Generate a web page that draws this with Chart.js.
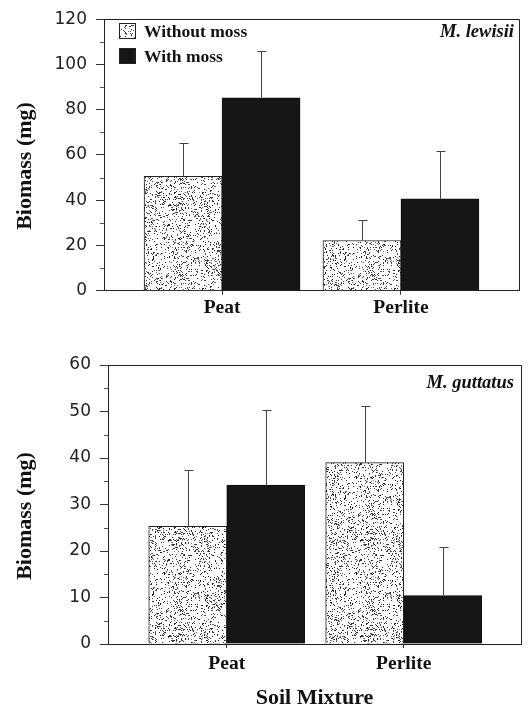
<!DOCTYPE html>
<html><head><meta charset="utf-8">
<script src="https://cdn.jsdelivr.net/npm/chart.js@4.4.1/dist/chart.umd.min.js"></script>
<style>
html,body{margin:0;padding:0;background:#fff;}
canvas{position:absolute;left:0;}
#c1{top:0;}
#c2{top:335px;}
</style></head><body>
<canvas id="c1" width="532" height="335"></canvas>
<canvas id="c2" width="532" height="372"></canvas>
<script>
// ---- data ----
const categories = ['Peat', 'Perlite'];
const seriesNames = ['Without moss', 'With moss'];
const lewisiiWithout = [50.6, 22.2];
const lewisiiWith = [85.3, 40.6];
const lewisiiWithoutErr = [14.5, 9.2];
const lewisiiWithErr = [20.7, 21.0];
const guttatusWithout = [25.3, 39.0];
const guttatusWith = [34.2, 10.4];
const guttatusWithoutErr = [12.2, 12.1];
const guttatusWithErr = [16.1, 10.4];
const lewisiiTicks = [0, 20, 40, 60, 80, 100, 120];
const guttatusTicks = [0, 10, 20, 30, 40, 50, 60];

// ---- stipple texture ----
function makeStipple() {
  const c = document.createElement('canvas');
  c.width = 96; c.height = 96;
  const g = c.getContext('2d');
  g.fillStyle = '#fff'; g.fillRect(0, 0, 96, 96);
  const img = g.getImageData(0, 0, 96, 96);
  for (let y = 0; y < 96; y++) {
    for (let x = 0; x < 96; x++) {
      const h = Math.abs(Math.sin(x * 12.9898 + y * 78.233) * 43758.5453) % 1;
      const h2 = Math.abs(Math.sin(Math.floor(x / 6) * 7.13 + Math.floor(y / 6) * 3.71) * 9631.77) % 1;
      const thr = 0.08 + 0.14 * h2;
      if (h < thr) {
        const v = 20 + Math.floor(h * 600) % 100;
        const i = (y * 96 + x) * 4;
        img.data[i] = v; img.data[i + 1] = v; img.data[i + 2] = v;
      }
    }
  }
  g.putImageData(img, 0, 0);
  return g.createPattern(c, 'repeat');
}
const stipple = makeStipple();
const blackFill = '#161616';

const serif = '"Liberation Serif", "Times New Roman", serif';
const sans = '"DejaVu Sans", Verdana, sans-serif';

const decoPlugin = {
  id: 'deco',
  afterDatasetsDraw(chart, args, o) {
    const ctx = chart.ctx;
    const ys = chart.scales.y;
    ctx.save();
    ctx.strokeStyle = '#444';
    ctx.lineWidth = 1;
    chart.data.datasets.forEach((ds, i) => {
      const meta = chart.getDatasetMeta(i);
      meta.data.forEach((el, j) => {
        const top = ys.getPixelForValue(ds.data[j].y + ds.errors[j]);
        const x = Math.round(el.x) + 0.5;
        ctx.beginPath();
        ctx.moveTo(x, el.y);
        ctx.lineTo(x, Math.round(top) + 0.5);
        ctx.moveTo(x - 4, Math.round(top) + 0.5);
        ctx.lineTo(x + 5, Math.round(top) + 0.5);
        ctx.stroke();
      });
    });
    ctx.restore();
  },
  afterDraw(chart, args, o) {
    const ctx = chart.ctx;
    const a = chart.chartArea;
    const ys = chart.scales.y;
    ctx.save();
    // frame top and right
    ctx.strokeStyle = '#222';
    ctx.lineWidth = 1;
    ctx.beginPath();
    ctx.moveTo(Math.round(a.left), Math.round(a.top) + 0.5);
    ctx.lineTo(Math.round(a.right) + 0.5, Math.round(a.top) + 0.5);
    ctx.lineTo(Math.round(a.right) + 0.5, Math.round(a.bottom));
    ctx.stroke();
    // minor ticks
    ctx.strokeStyle = '#555';
    const step = o.minorStep;
    for (let v = step; v < ys.max; v += 2 * step) {
      const y = Math.round(ys.getPixelForValue(v)) + 0.5;
      ctx.beginPath();
      ctx.moveTo(a.left - 4, y);
      ctx.lineTo(a.left, y);
      ctx.stroke();
    }
    // y title
    ctx.fillStyle = '#111';
    ctx.font = 'bold 22px ' + serif;
    ctx.textAlign = 'center';
    ctx.textBaseline = 'middle';
    ctx.translate(o.titleX, o.titleY);
    ctx.rotate(-Math.PI / 2);
    ctx.fillText(o.yTitle, 0, 0);
    ctx.setTransform(1, 0, 0, 1, 0, 0);
    // species label
    ctx.font = 'italic bold 18.5px ' + serif;
    ctx.textAlign = 'right';
    ctx.fillText(o.species, o.speciesX, o.speciesY);
    // legend
    if (o.legend) {
      ctx.textAlign = 'left';
      ctx.font = 'bold 17.5px ' + serif;
      chart.data.datasets.forEach((ds, i) => {
        const y = o.legendY + i * 25;
        ctx.fillStyle = ds.backgroundColor;
        ctx.fillRect(o.legendX, y - 8, 17, 16);
        ctx.strokeStyle = '#222';
        ctx.strokeRect(o.legendX + 0.5, y - 7.5, 16, 15);
        ctx.fillStyle = '#111';
        ctx.fillText(ds.label, o.legendX + 25, y + 1);
      });
    }
    ctx.restore();
  }
};

function buildChart(id, without, withm, withoutErr, withErr, ticks, cfg) {
  const mk = (arr) => arr.map((v, i) => ({ x: i + 1, y: v }));
  const maxV = ticks[ticks.length - 1];
  return new Chart(document.getElementById(id), {
    type: 'bar',
    data: {
      datasets: [
        { label: seriesNames[0], data: mk(without), errors: withoutErr, backgroundColor: stipple,
          borderColor: '#222', borderWidth: 1, borderSkipped: 'start' },
        { label: seriesNames[1], data: mk(withm), errors: withErr, backgroundColor: blackFill,
          borderColor: '#111', borderWidth: 1, borderSkipped: 'start' }
      ]
    },
    options: {
      responsive: false,
      animation: false,
      devicePixelRatio: 1,
      barThickness: 78,
      layout: { padding: { left: 0, right: cfg.padRight, top: cfg.padTop, bottom: 0 } },
      plugins: {
        legend: { display: false },
        tooltip: { enabled: false },
        deco: cfg.deco
      },
      scales: {
        x: {
          type: 'linear',
          offset: false,
          min: cfg.xMin, max: cfg.xMax,
          afterBuildTicks: (s) => { s.ticks = categories.map((c, i) => ({ value: i + 1 })); },
          afterFit: (s) => { s.height = cfg.xHeight; },
          ticks: {
            callback: (v) => categories[v - 1],
            font: { family: serif, size: 19.5, weight: 'bold', lineHeight: 1.2 },
            color: '#111',
            padding: cfg.xPad,
            maxRotation: 0
          },
          grid: { drawOnChartArea: false, offset: false, tickLength: 4, tickColor: '#333' },
          border: { display: true, color: '#222', width: 1 },
          title: cfg.xTitle ? {
            display: true, text: cfg.xTitle, color: '#111',
            font: { family: serif, size: 22, weight: 'bold', lineHeight: 0.8 },
            padding: { top: 0, bottom: 0 }
          } : { display: false }
        },
        y: {
          min: 0, max: maxV,
          afterBuildTicks: (s) => { s.ticks = ticks.map(v => ({ value: v })); },
          afterFit: (s) => { s.width = cfg.yWidth; },
          ticks: {
            font: { family: sans, size: 17 },
            color: '#222',
            padding: 9
          },
          grid: { drawOnChartArea: false, tickLength: 8, tickColor: '#333' },
          border: { display: true, color: '#222', width: 1 }
        }
      }
    },
    plugins: [decoPlugin]
  });
}

buildChart('c1', lewisiiWithout, lewisiiWith, lewisiiWithoutErr, lewisiiWithErr, lewisiiTicks, {
  padRight: 13, padTop: 10.7, xHeight: 44.3, yWidth: 104, xPad: 2, xMin: 0.34, xMax: 2.66,
  deco: { minorStep: 10, titleX: 25, titleY: 166, yTitle: 'Biomass (mg)',
          species: 'M. lewisii', speciesX: 514, speciesY: 32, legend: true, legendX: 119, legendY: 31 }
});
buildChart('c2', guttatusWithout, guttatusWith, guttatusWithoutErr, guttatusWithErr, guttatusTicks, {
  padRight: 11, padTop: 30, xHeight: 63, yWidth: 108, xPad: 4, xTitle: 'Soil Mixture', xMin: 0.329, xMax: 2.663,
  deco: { minorStep: 5, titleX: 25, titleY: 181, yTitle: 'Biomass (mg)',
          species: 'M. guttatus', speciesX: 514, speciesY: 48, legend: false }
});
</script>
</body></html>
